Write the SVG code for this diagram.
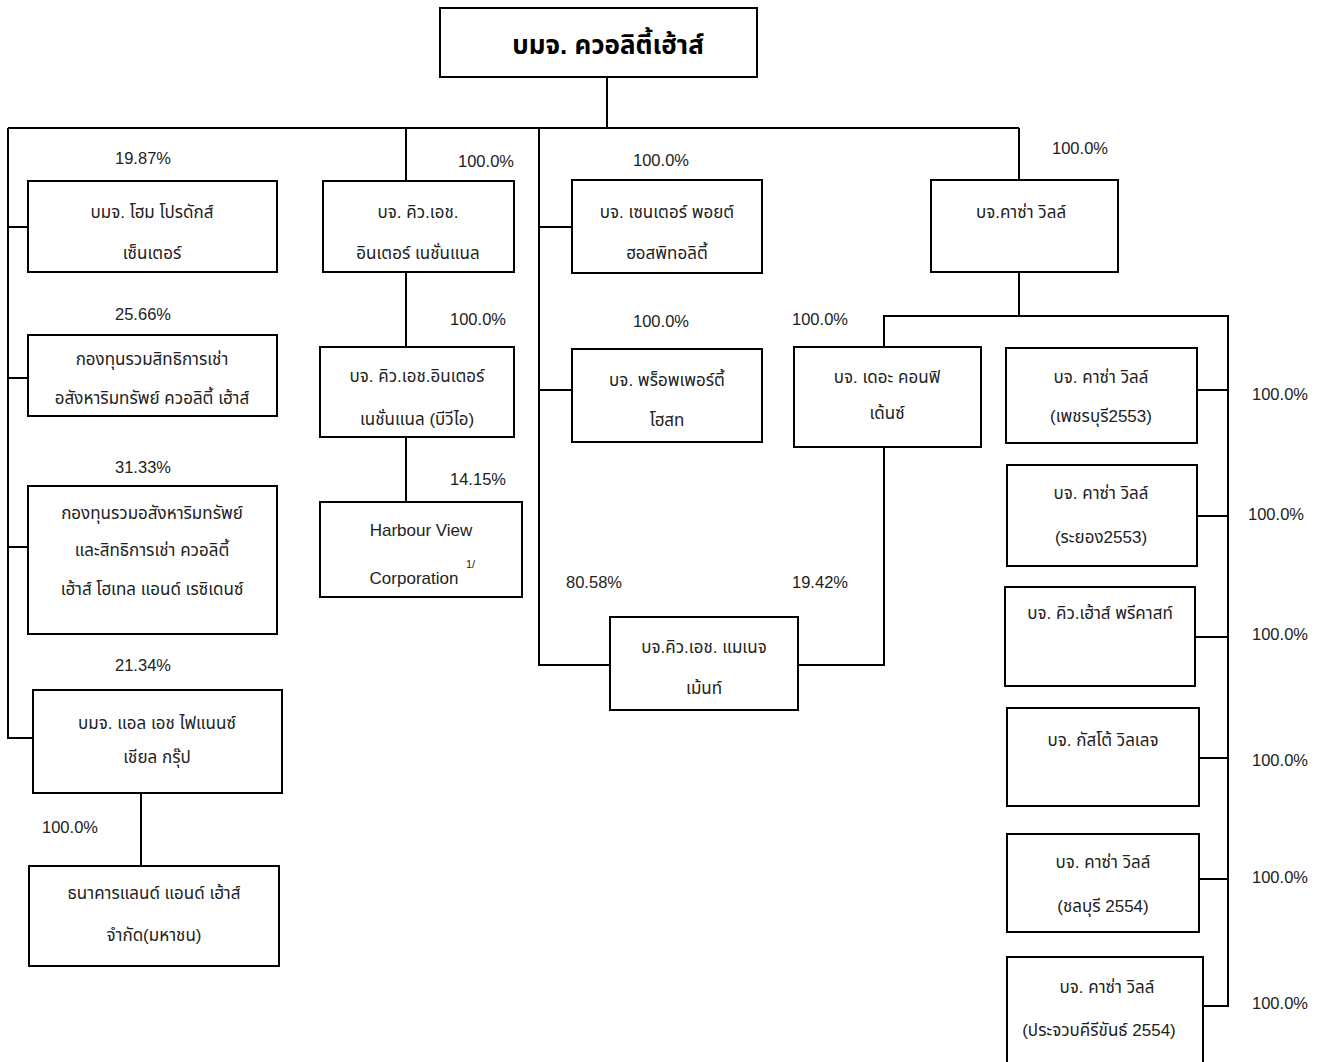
<svg xmlns="http://www.w3.org/2000/svg" width="1323" height="1062" viewBox="0 0 1323 1062">
<style>
.b{fill:#fff;stroke:#000;stroke-width:2}
.t{font-family:"Liberation Sans","Noto Sans Thai","Noto Sans",sans-serif;font-size:17px;fill:#222;text-anchor:middle}
.p{font-family:"Liberation Sans","Noto Sans",sans-serif;font-size:16.5px;fill:#222;text-anchor:middle}
.h{font-family:"Liberation Sans","Noto Sans Thai","Noto Sans",sans-serif;font-size:26px;font-weight:bold;fill:#000;text-anchor:middle}
.c{fill:none;stroke:#000;stroke-width:2}
</style>
<rect width="1323" height="1062" fill="#fff"/>
<g id="connectors" class="c">
<path d="M607 77V128M8 128H1019M8 128V738H33M8 227H28M8 378H28M8 547H28"/>
<path d="M406 128V181M406 272V347M406 437V502"/>
<path d="M539 128V665H610M539 227H572M539 390H572"/>
<path d="M798 665H884V447M1019 128V180M1019 272V316M884 347V316H1228V1006H1203"/>
<path d="M1197 390H1228M1197 516H1228M1195 637H1228M1199 758H1228M1199 879H1228"/>
<path d="M141 793V866"/>
</g>
<g id="n-root"><rect class="b" x="440" y="8" width="317" height="69"/><text class="h" x="608" y="54">บมจ. ควอลิตี้เฮ้าส์</text></g>
<g id="n-home"><rect class="b" x="28" y="181" width="249" height="91"/><text class="t" x="152" y="218">บมจ. โฮม โปรดักส์</text><text class="t" x="152" y="259">เซ็นเตอร์</text><text class="p" x="143" y="164">19.87%</text></g>
<g id="n-fund1"><rect class="b" x="28" y="335" width="249" height="81"/><text class="t" x="152" y="365">กองทุนรวมสิทธิการเช่า</text><text class="t" x="152" y="404">อสังหาริมทรัพย์ ควอลิตี้ เฮ้าส์</text><text class="p" x="143" y="320">25.66%</text></g>
<g id="n-fund2"><rect class="b" x="28" y="486" width="249" height="148"/><text class="t" x="152" y="519">กองทุนรวมอสังหาริมทรัพย์</text><text class="t" x="152" y="556">และสิทธิการเช่า ควอลิตี้</text><text class="t" x="152" y="595">เฮ้าส์  โฮเทล แอนด์ เรซิเดนซ์</text><text class="p" x="143" y="473">31.33%</text></g>
<g id="n-lhfg"><rect class="b" x="33" y="690" width="249" height="103"/><text class="t" x="157" y="729">บมจ. แอล เอช ไฟแนนซ์</text><text class="t" x="157" y="763">เชียล กรุ๊ป</text><text class="p" x="143" y="671">21.34%</text></g>
<g id="n-lhbank"><rect class="b" x="29" y="866" width="250" height="100"/><text class="t" x="154" y="899">ธนาคารแลนด์ แอนด์ เฮ้าส์</text><text class="t" x="154" y="941">จำกัด(มหาชน)</text><text class="p" x="70" y="833">100.0%</text></g>
<g id="n-qhi"><rect class="b" x="323" y="181" width="191" height="91"/><text class="t" x="418" y="218">บจ. คิว.เอช.</text><text class="t" x="418" y="259">อินเตอร์ เนชั่นแนล</text><text class="p" x="486" y="167">100.0%</text></g>
<g id="n-bvi"><rect class="b" x="320" y="347" width="194" height="90"/><text class="t" x="417" y="382">บจ. คิว.เอช.อินเตอร์</text><text class="t" x="417" y="425">เนชั่นแนล (บีวีไอ)</text><text class="p" x="478" y="325">100.0%</text></g>
<g id="n-harbour"><rect class="b" x="320" y="502" width="202" height="95"/><text class="t" x="421" y="536">Harbour View</text><text class="t" x="414" y="584">Corporation</text><text x="466" y="568" style="font-family:'Liberation Sans',sans-serif;font-size:11px;fill:#222">1/</text><text class="p" x="478" y="485">14.15%</text></g>
<g id="n-cph"><rect class="b" x="572" y="180" width="190" height="93"/><text class="t" x="667" y="218">บจ. เซนเตอร์ พอยต์</text><text class="t" x="667" y="259">ฮอสพิทอลิตี้</text><text class="p" x="661" y="166">100.0%</text></g>
<g id="n-ph"><rect class="b" x="572" y="349" width="190" height="93"/><text class="t" x="667" y="386">บจ. พร็อพเพอร์ตี้</text><text class="t" x="667" y="426">โฮสท</text><text class="p" x="661" y="327">100.0%</text></g>
<g id="n-qhm"><rect class="b" x="610" y="617" width="188" height="93"/><text class="t" x="704" y="653">บจ.คิว.เอช. แมเนจ</text><text class="t" x="704" y="694">เม้นท์</text><text class="p" x="594" y="588">80.58%</text><text class="p" x="820" y="588">19.42%</text></g>
<g id="n-conf"><rect class="b" x="794" y="347" width="187" height="100"/><text class="t" x="887" y="383">บจ. เดอะ คอนฟิ</text><text class="t" x="887" y="419">เด้นซ์</text><text class="p" x="820" y="325">100.0%</text></g>
<g id="n-casa"><rect class="b" x="931" y="180" width="187" height="92"/><text class="t" x="1021" y="218">บจ.คาซ่า วิลล์</text><text class="p" x="1080" y="154">100.0%</text></g>
<g id="n-cv1"><rect class="b" x="1006" y="348" width="191" height="95"/><text class="t" x="1101" y="383">บจ. คาซ่า วิลล์</text><text class="t" x="1101" y="422">(เพชรบุรี2553)</text><text class="p" x="1280" y="400">100.0%</text></g>
<g id="n-cv2"><rect class="b" x="1007" y="465" width="190" height="101"/><text class="t" x="1101" y="499">บจ. คาซ่า วิลล์</text><text class="t" x="1101" y="543">(ระยอง2553)</text><text class="p" x="1276" y="520">100.0%</text></g>
<g id="n-precast"><rect class="b" x="1005" y="587" width="190" height="99"/><text class="t" x="1100" y="619">บจ. คิว.เฮ้าส์ พรีคาสท์</text><text class="p" x="1280" y="640">100.0%</text></g>
<g id="n-gusto"><rect class="b" x="1007" y="708" width="192" height="98"/><text class="t" x="1103" y="746">บจ. กัสโต้ วิลเลจ</text><text class="p" x="1280" y="766">100.0%</text></g>
<g id="n-cv3"><rect class="b" x="1007" y="834" width="192" height="98"/><text class="t" x="1103" y="868">บจ. คาซ่า วิลล์</text><text class="t" x="1103" y="912">(ชลบุรี 2554)</text><text class="p" x="1280" y="883">100.0%</text></g>
<g id="n-cv4"><rect class="b" x="1007" y="957" width="196" height="110"/><text class="t" x="1107" y="993">บจ. คาซ่า วิลล์</text><text class="t" x="1099" y="1036">(ประจวบคีรีขันธ์ 2554)</text><text class="p" x="1280" y="1009">100.0%</text></g>
</svg>
